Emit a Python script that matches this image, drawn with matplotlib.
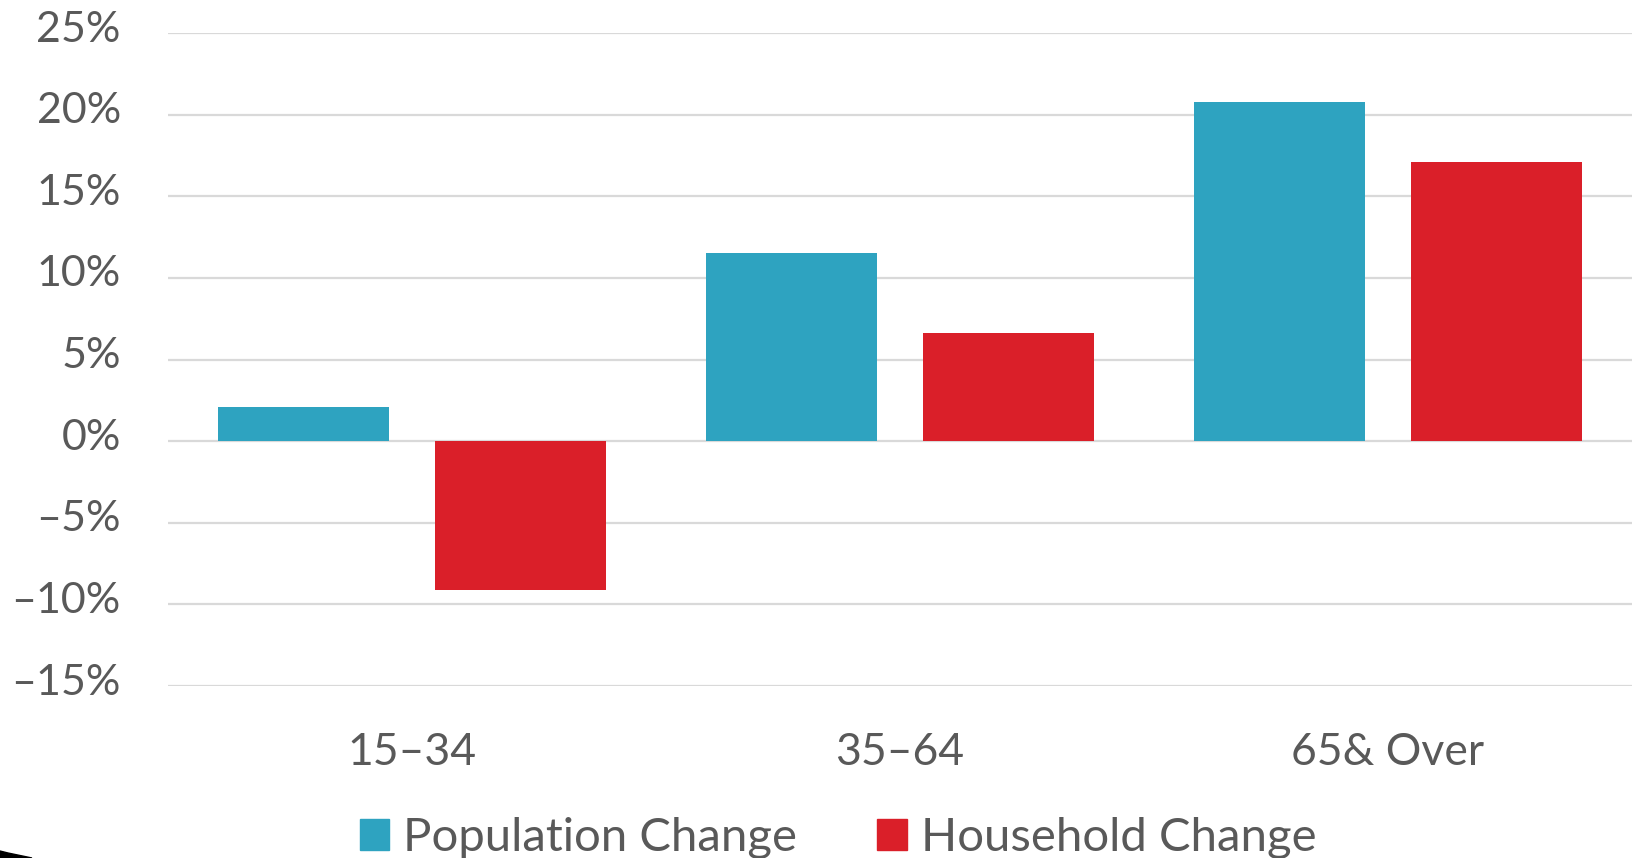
import matplotlib
matplotlib.use("Agg")
import matplotlib.pyplot as plt
import matplotlib.transforms as mtransforms
from matplotlib.patches import Patch, Polygon
import numpy as np

categories = ["15–34", "35–64", "65& Over"]
population_change = [2.1, 11.5, 20.8]
household_change = [-9.1, 6.6, 17.1]
series_names = ["Population Change", "Household Change"]
y_ticks = [-15, -10, -5, 0, 5, 10, 15, 20, 25]

BLUE = "#2ea3c0"
RED = "#da1f29"
TEXT = "#595959"
GRID = "#d9d9d9"

plt.rcParams['font.family'] = ['Lato', 'DejaVu Sans']

W, H = 1637, 858
fig = plt.figure(figsize=(W / 100, H / 100), dpi=100)
ax = fig.add_axes([168 / W, 1 - 686 / H, (1632 - 168) / W, (686 - 33) / H])

x = np.arange(len(categories))
bw = 0.35
off = 0.223
ax.bar(x - off, population_change, bw, color=BLUE, zorder=3)
ax.bar(x + off, household_change, bw, color=RED, zorder=3)

ax.set_xlim(-0.5, len(categories) - 0.5)
ax.set_ylim(-15, 25)
ax.set_yticks(y_ticks)
ax.set_yticklabels([f"{v}%".replace("-", "\u2013") for v in y_ticks])
ax.set_xticks(x)
ax.set_xticklabels(categories)
ax.yaxis.grid(True, color=GRID, linewidth=1.6, zorder=0)
ax.set_axisbelow(True)
for s in ax.spines.values():
    s.set_visible(False)
ax.tick_params(axis='both', length=0, labelcolor=TEXT)
ax.tick_params(axis='y', pad=34, labelsize=31)
ax.tick_params(axis='x', pad=33, labelsize=32)

# y labels sit a little above their gridlines
shift = mtransforms.ScaledTranslation(0, 5 / 72, fig.dpi_scale_trans)
for lbl in ax.get_yticklabels():
    lbl.set_transform(lbl.get_transform() + shift)

handles = [Patch(color=BLUE), Patch(color=RED)]
fig.legend(handles, series_names, loc='center', bbox_to_anchor=(838 / W, 1 - 838 / H),
           ncol=2, frameon=False, fontsize=34, labelcolor=TEXT,
           handlelength=0.62, handleheight=0.62, handletextpad=0.3,
           columnspacing=1.7, borderpad=0, borderaxespad=0)

# dark screenshot corner in the bottom-left
fig.patches.append(Polygon([[0, 0], [0, 7 / H], [8 / W, 5 / H], [32 / W, 0]],
                           closed=True, transform=fig.transFigure, color="black"))

fig.savefig("out.png", dpi=100)
